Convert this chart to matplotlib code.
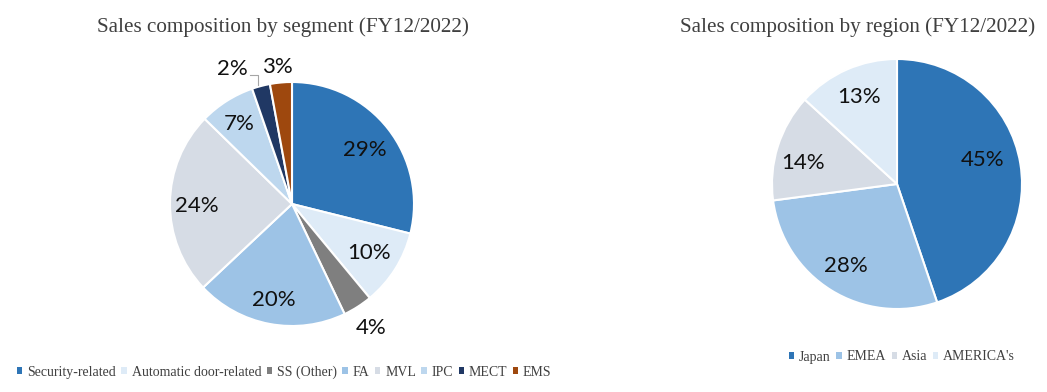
import numpy as np
import matplotlib
matplotlib.use("Agg")
import matplotlib.pyplot as plt
from matplotlib.patches import Patch

# ---- data ----
seg_labels = ["Security-related", "Automatic door-related", "SS (Other)", "FA", "MVL", "IPC", "MECT", "EMS"]
seg_values = [28.9, 10.1, 3.9, 20.1, 24.3, 7.4, 2.4, 2.9]
seg_colors = ["#2E75B6", "#DEEBF7", "#7F7F7F", "#9DC3E6", "#D6DCE5", "#BDD7EE", "#203864", "#9E480E"]

reg_labels = ["Japan", "EMEA", "Asia", "AMERICA's"]
reg_values = [44.8, 28.1, 13.9, 13.2]
reg_colors = ["#2E75B6", "#9DC3E6", "#D6DCE5", "#DEEBF7"]

W, H = 1047, 392
fig = plt.figure(figsize=(W / 100, H / 100), dpi=100)

SERIF = "Liberation Serif"
SANS = ["Lato", "DejaVu Sans"]
TXT = "#404040"


def make_ax(cx, cy, r, L=1.6):
    half = r * L
    ax = fig.add_axes([(cx - half) / W, (H - cy - half) / H, 2 * half / W, 2 * half / H])
    return ax, L


# label placement styling: (radius factor, angle offset deg) per wedge
seg_lab_style = [(0.74, -1.5), (0.75, 0), (1.21, 0), (0.80, 0), (0.78, 2), (0.79, 1), (1.21, 9), (1.13, 1)]
reg_lab_style = [(0.71, 6), (0.77, 0), (0.77, 5), (0.76, 0)]


def draw_pie(ax, L, values, colors, styles):
    wedges, _ = ax.pie(values, colors=colors, startangle=90, counterclock=False,
                       wedgeprops=dict(edgecolor="white", linewidth=1.5))
    ax.set_xlim(-L, L)
    ax.set_ylim(-L, L)
    ax.set_aspect("equal")
    for w, v, (rf, da) in zip(wedges, values, styles):
        ang = np.deg2rad((w.theta1 + w.theta2) / 2 + da)
        ax.text(rf * np.cos(ang), rf * np.sin(ang), f"{v:.0f}%", ha="center", va="center",
                fontsize=16, family=SANS, color="#111111")
    return wedges


axL, LL = make_ax(292, 204, 122)
wl = draw_pie(axL, LL, seg_values, seg_colors, seg_lab_style)
# leader line for MECT label
mect = wl[6]
a = np.deg2rad((mect.theta1 + mect.theta2) / 2)
ex, ey = 1.0 * np.cos(a), 1.0 * np.sin(a)
axL.plot([ex - 0.02, ex - 0.02, ex - 0.09], [ey + 0.01, ey + 0.09, ey + 0.09], color="#A6A6A6", lw=0.8,
         clip_on=False)

axR, LR = make_ax(897, 184, 125)
draw_pie(axR, LR, reg_values, reg_colors, reg_lab_style)

fig.text(283 / W, 1 - 27 / H, "Sales composition by segment (FY12/2022)", ha="center", va="center",
         fontsize=15.2, family=SERIF, color=TXT)
fig.text(858 / W, 1 - 27 / H, "Sales composition by region (FY12/2022)", ha="center", va="center",
         fontsize=15.2, family=SERIF, color=TXT)

legkw = dict(frameon=False, ncol=10, handlelength=0.38, handleheight=0.38, handletextpad=0.35,
             columnspacing=0.4, prop=dict(family=SERIF, size=10), labelcolor=TXT, borderaxespad=0,
             borderpad=0)
h1 = [Patch(facecolor=c, edgecolor="none") for c in seg_colors]
fig.legend(h1, seg_labels, loc="center left", bbox_to_anchor=(17 / W, 1 - 372 / H), **legkw)
h2 = [Patch(facecolor=c, edgecolor="none") for c in reg_colors]
fig.legend(h2, reg_labels, loc="center left", bbox_to_anchor=(789 / W, 1 - 357 / H), **legkw)

fig.savefig("out.png", dpi=100, facecolor="white")
